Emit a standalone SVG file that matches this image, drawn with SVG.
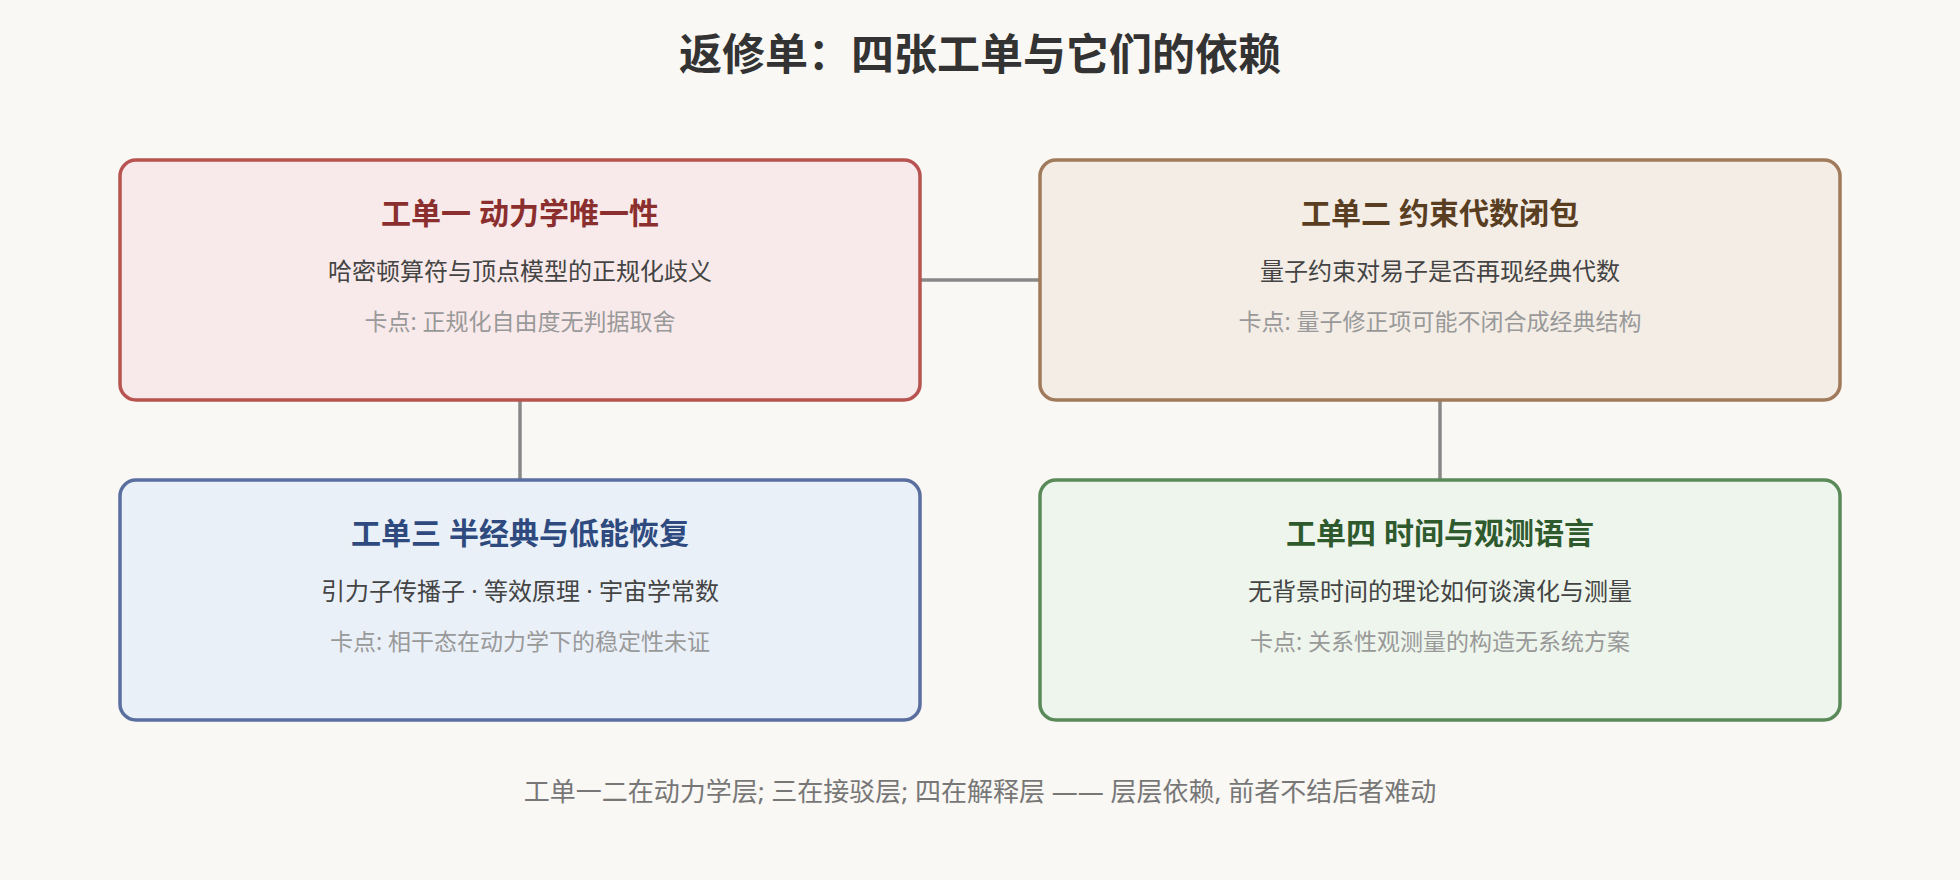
<svg xmlns="http://www.w3.org/2000/svg" width="1960" height="880" viewBox="0 0 1960 880">
<style>
text{font-family:"Noto Sans","Noto Sans CJK SC",sans-serif;text-anchor:middle}
.t{font-size:30px;font-weight:bold}
.s{font-size:24px;fill:#444}
.n{font-size:23px;fill:#999}
.b{stroke-width:3.5}
</style>
<rect width="1960" height="880" fill="#faf8f4"/>
<text x="980" y="70" font-size="43" font-weight="bold" fill="#333">返修单：四张工单与它们的依赖</text>
<g id="connectors" stroke="#888" stroke-width="3.5" fill="none">
<line x1="920" y1="280" x2="1040" y2="280"/>
<line x1="520" y1="400" x2="520" y2="480"/>
<line x1="1440" y1="400" x2="1440" y2="480"/>
</g>
<g id="n1"><rect class="b" x="120" y="160" width="800" height="240" rx="16" fill="#f8eaea" stroke="#b85450"/>
<text class="t" x="520" y="224" fill="#8b2e2e">工单一 动力学唯一性</text>
<text class="s" x="520" y="280">哈密顿算符与顶点模型的正规化歧义</text>
<text class="n" x="520" y="330">卡点: 正规化自由度无判据取舍</text></g>
<g id="n2"><rect class="b" x="1040" y="160" width="800" height="240" rx="16" fill="#f3ede6" stroke="#a07a5a"/>
<text class="t" x="1440" y="224" fill="#5a3e22">工单二 约束代数闭包</text>
<text class="s" x="1440" y="280">量子约束对易子是否再现经典代数</text>
<text class="n" x="1440" y="330">卡点: 量子修正项可能不闭合成经典结构</text></g>
<g id="n3"><rect class="b" x="120" y="480" width="800" height="240" rx="16" fill="#eaf0f8" stroke="#5a6fa0"/>
<text class="t" x="520" y="544" fill="#2e4a7e">工单三 半经典与低能恢复</text>
<text class="s" x="520" y="600">引力子传播子 · 等效原理 · 宇宙学常数</text>
<text class="n" x="520" y="650">卡点: 相干态在动力学下的稳定性未证</text></g>
<g id="n4"><rect class="b" x="1040" y="480" width="800" height="240" rx="16" fill="#edf5ec" stroke="#5a8a5a"/>
<text class="t" x="1440" y="544" fill="#2e5a2e">工单四 时间与观测语言</text>
<text class="s" x="1440" y="600">无背景时间的理论如何谈演化与测量</text>
<text class="n" x="1440" y="650">卡点: 关系性观测量的构造无系统方案</text></g>
<text x="980" y="801" font-size="26" fill="#777">工单一二在动力学层; 三在接驳层; 四在解释层 —— 层层依赖, 前者不结后者难动</text>
</svg>
